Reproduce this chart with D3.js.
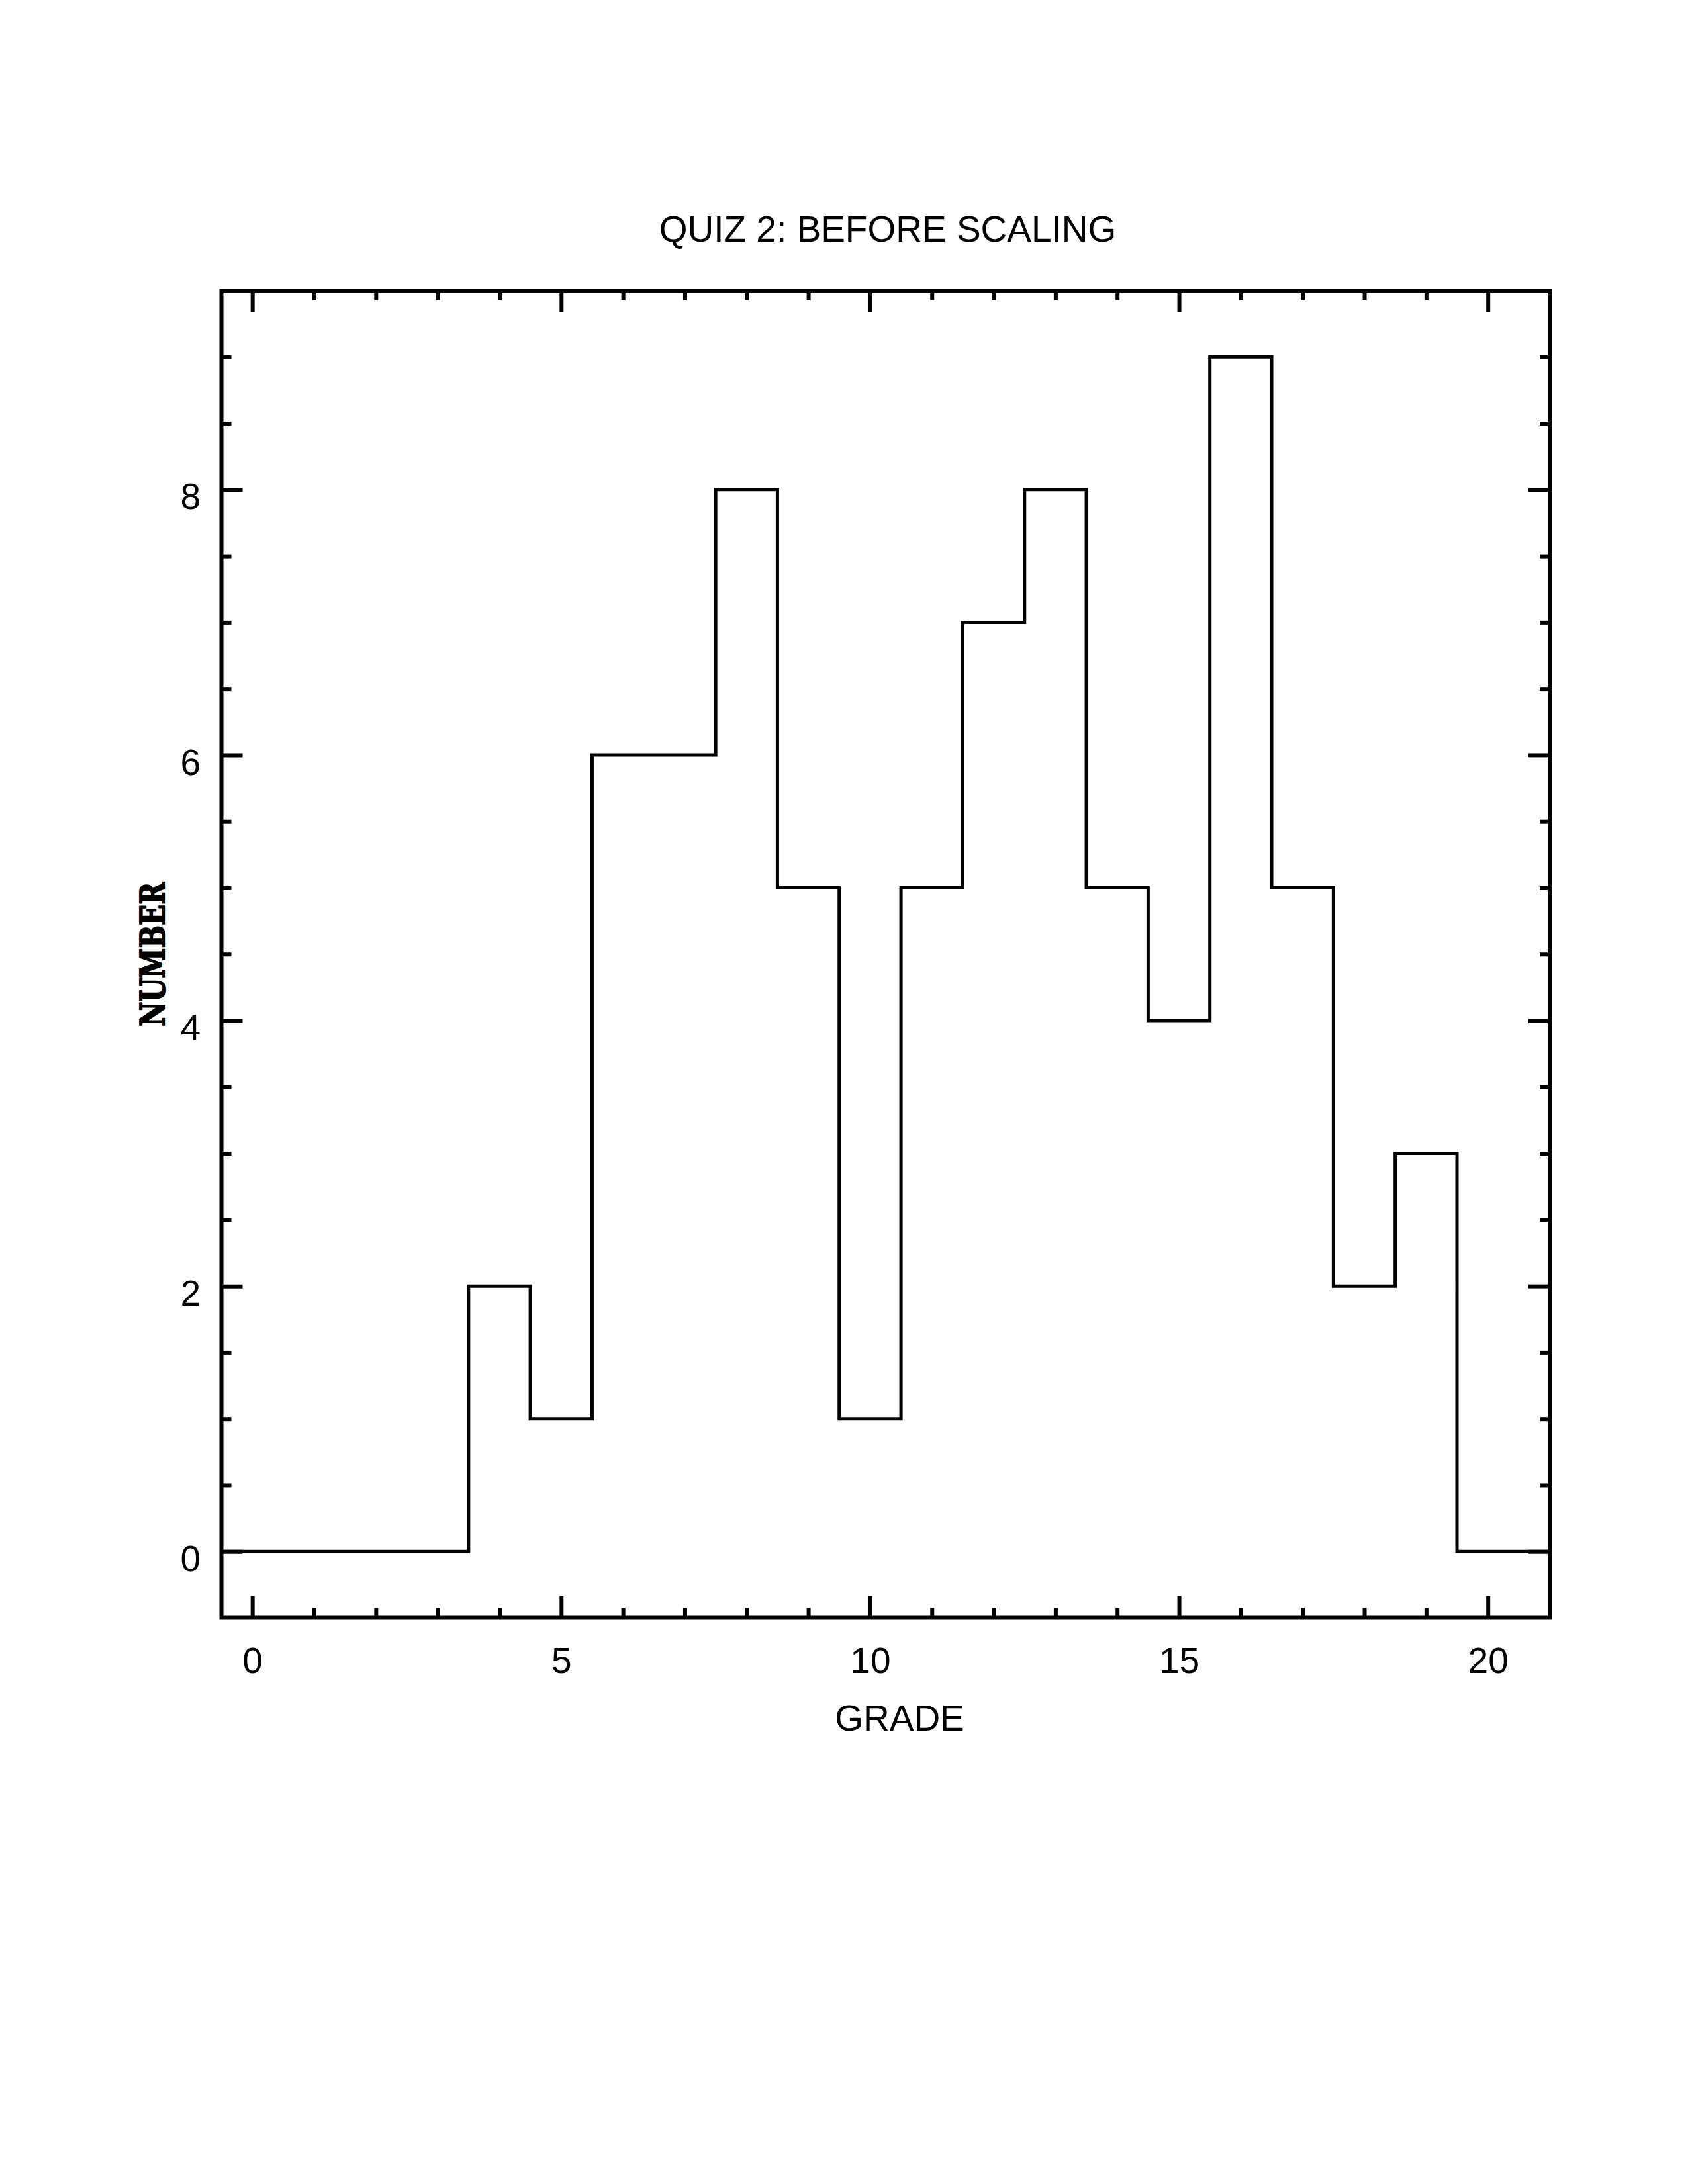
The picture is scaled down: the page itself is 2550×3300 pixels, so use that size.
<!DOCTYPE html>
<html>
<head>
<meta charset="utf-8">
<script src="https://cdn.jsdelivr.net/npm/d3@7"></script>
<style>
  html, body { margin: 0; padding: 0; background: #fff; }
  svg { display: block; }
</style>
</head>
<body>
<script>
// ---- data ----
const grades = [0,1,2,3,4,5,6,7,8,9,10,11,12,13,14,15,16,17,18,19,20];
const counts = [0,0,0,0,2,1,6,6,8,5,1,5,7,8,5,4,9,5,2,3,0];
const xMajorTicks = [0,5,10,15,20];
const yMajorTicks = [0,2,4,6,8];
const titleText = "QUIZ 2: BEFORE SCALING";
const xLabel = "GRADE";
const yLabel = "NUMBER";

// ---- layout ----
const W = 2550, H = 3300;
const L = 334.5, R = 2341, T = 439, B = 2444.5;
const fontSans = "'Liberation Sans', Arial, Helvetica, sans-serif";

const svg = d3.select("body").append("svg").attr("width", W).attr("height", H);
svg.append("rect").attr("width", W).attr("height", H).attr("fill", "#fff");

const x = d3.scaleLinear().domain([-0.5, 21]).range([L, R]);
const y = d3.scaleLinear().domain([-0.5, 9.5]).range([B, T]);

const xMinor = d3.range(0, 21, 1).filter(v => !xMajorTicks.includes(v));
const yMinor = d3.range(0, 9.01, 0.5).filter(v => !yMajorTicks.includes(v));

function styleAxis(g) {
  g.select(".domain").remove();
  g.selectAll(".tick line").attr("stroke", "#000").attr("stroke-width", 6);
}

// minor ticks
svg.append("g").attr("transform", `translate(0,${B})`)
  .call(d3.axisBottom(x).tickValues(xMinor).tickSize(-15).tickFormat(""))
  .call(styleAxis);
svg.append("g").attr("transform", `translate(0,${T})`)
  .call(d3.axisTop(x).tickValues(xMinor).tickSize(-15).tickFormat(""))
  .call(styleAxis);
svg.append("g").attr("transform", `translate(${L},0)`)
  .call(d3.axisLeft(y).tickValues(yMinor).tickSize(-15).tickFormat(""))
  .call(styleAxis);
svg.append("g").attr("transform", `translate(${R},0)`)
  .call(d3.axisRight(y).tickValues(yMinor).tickSize(-15).tickFormat(""))
  .call(styleAxis);

// major ticks
const xb = svg.append("g").attr("transform", `translate(0,${B})`)
  .call(d3.axisBottom(x).tickValues(xMajorTicks).tickSize(-33).tickPadding(44).tickFormat(d3.format("d")))
  .call(styleAxis);
xb.selectAll(".tick text").attr("font-family", fontSans).attr("font-size", 55).attr("fill", "#000");

svg.append("g").attr("transform", `translate(0,${T})`)
  .call(d3.axisTop(x).tickValues(xMajorTicks).tickSize(-33).tickFormat(""))
  .call(styleAxis);

const yl = svg.append("g").attr("transform", `translate(${L},0)`)
  .call(d3.axisLeft(y).tickValues(yMajorTicks).tickSize(-32).tickPadding(31.5).tickFormat(d3.format("d")))
  .call(styleAxis);
yl.selectAll(".tick text").attr("font-family", fontSans).attr("font-size", 55).attr("fill", "#000").attr("dy", "0.53em");

svg.append("g").attr("transform", `translate(${R},0)`)
  .call(d3.axisRight(y).tickValues(yMajorTicks).tickSize(-32).tickFormat(""))
  .call(styleAxis);

// histogram step line
const pts = grades.map((g, i) => [g - 0.5, counts[i]]);
pts.push([x.domain()[1], counts[counts.length - 1]]);
const line = d3.line().x(d => x(d[0])).y(d => y(d[1])).curve(d3.curveStepAfter);
svg.append("path").datum(pts)
  .attr("d", line)
  .attr("fill", "none").attr("stroke", "#000").attr("stroke-width", 5)
  .attr("stroke-linejoin", "miter").attr("stroke-linecap", "square");

// frame
svg.append("rect").attr("x", L).attr("y", T).attr("width", R - L).attr("height", B - T)
  .attr("fill", "none").attr("stroke", "#000").attr("stroke-width", 6);

// title
svg.append("text").attr("x", 1341).attr("y", 365).attr("text-anchor", "middle")
  .attr("font-family", fontSans).attr("font-size", 55).attr("fill", "#000").text(titleText);

// x label
svg.append("text").attr("x", 1359).attr("y", 2615).attr("text-anchor", "middle")
  .attr("font-family", fontSans).attr("font-size", 55).attr("fill", "#000").text(xLabel);

// y label
svg.append("text").attr("transform", `translate(249,${(T + B) / 2}) rotate(-90)`)
  .attr("text-anchor", "middle")
  .attr("font-family", "'DejaVu Serif', 'Liberation Serif', serif").attr("font-weight", "bold")
  .attr("font-size", 53).attr("fill", "#000")
  .attr("stroke", "#000").attr("stroke-width", 2).attr("stroke-linejoin", "round")
  .attr("textLength", 218).attr("lengthAdjust", "spacingAndGlyphs")
  .text(yLabel);
</script>
</body>
</html>
